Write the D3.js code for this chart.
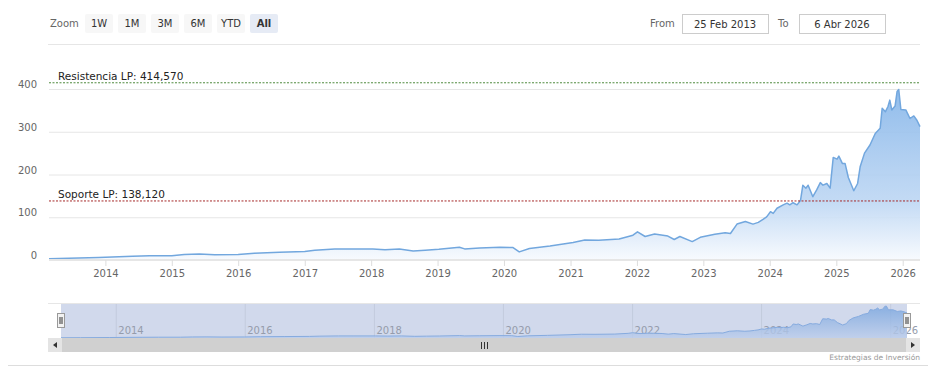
<!DOCTYPE html>
<html>
<head>
<meta charset="utf-8">
<script src="https://cdn.jsdelivr.net/npm/d3@7/dist/d3.min.js"></script>
<style>
  body { margin:0; background:#fff; }
  svg { display:block; font-family:"DejaVu Sans", Verdana, sans-serif; }
</style>
</head>
<body>
<script>
var width = 941, height = 385;

// price series
var dates = ["2013-02-25","2013-06-15","2013-11-25","2014-05-30","2014-09-01","2015-01-01","2015-03-10","2015-06-01","2015-08-25",
  "2016-01-01","2016-03-30","2016-08-15","2017-01-01","2017-02-25","2017-06-15","2017-09-05","2018-01-10","2018-03-18","2018-06-05",
  "2018-08-20","2018-10-25","2019-01-08","2019-05-01","2019-05-30","2019-08-20","2019-12-10","2020-02-20","2020-03-25","2020-05-20",
  "2020-09-10","2021-01-15","2021-03-20","2021-06-05","2021-09-25","2021-11-05","2021-12-10","2022-01-04","2022-02-15","2022-04-08",
  "2022-06-20","2022-07-25","2022-08-25","2022-11-01","2022-12-15","2023-03-05","2023-05-01","2023-05-30","2023-07-05","2023-08-20",
  "2023-10-01","2023-10-30","2023-11-25","2023-12-15","2024-01-05","2024-01-20","2024-02-10","2024-03-15","2024-04-05","2024-04-20",
  "2024-05-08","2024-05-30","2024-06-18","2024-07-01","2024-07-18","2024-07-30","2024-08-25","2024-09-15","2024-10-05","2024-10-20",
  "2024-11-10","2024-11-28","2024-12-15","2025-01-05","2025-01-15","2025-02-03","2025-02-18","2025-03-08","2025-04-07","2025-04-28",
  "2025-05-12","2025-06-05","2025-07-05","2025-08-03","2025-08-30","2025-09-10","2025-09-28","2025-10-12","2025-10-22","2025-11-02",
  "2025-11-20","2025-12-01","2025-12-10","2025-12-22","2026-01-18","2026-02-10","2026-03-03","2026-03-20","2026-04-06"];
var prices = [3,4,6,9,10,10,13,14,12,
  13,16,18,20,23,26,26,26,24,26,
  21,23,25,30,26,28,30,29,19,27,
  33,41,47,46,49,54,58,66,55,61,
  56,48,55,43,53,60,64,62,84,90,
  84,88,95,101,113,109,121,129,133,129,
  134,129,139,175,168,175,148,164,181,175,
  179,168,240,236,243,226,226,193,162,179,
  218,250,269,296,308,355,347,359,374,351,
  360,394,399,352,351,331,337,327,312];

var yTicks = [0,100,200,300,400];
var levels = [{label:"Resistencia LP: 414,570", value:414.57, color:"#4e8a3c"},
              {label:"Soporte LP: 138,120", value:138.12, color:"#a52a2a"}];
var zoomButtons = ["1W","1M","3M","6M","YTD","All"];
var fromText = "25 Feb 2013", toText = "6 Abr 2026";
var credits = "Estrategias de Inversión";

var parse = d3.timeParse("%Y-%m-%d");
var data = dates.map((d,i)=>({date:parse(d), v:prices[i]}));

var svg = d3.select("body").append("svg").attr("width",width).attr("height",height);
var defs = svg.append("defs");

// ---- range selector ----
svg.append("text").attr("x",50).attr("y",27).attr("fill","#666").attr("font-size",10).text("Zoom");
var btn = svg.selectAll("g.btn").data(zoomButtons).enter().append("g").attr("class","btn")
  .attr("transform",(d,i)=>"translate("+(85+i*33)+",14)");
btn.append("rect").attr("width",28).attr("height",19).attr("rx",2)
  .attr("fill",d=>d=="All"?"#e6ebf5":"#f7f7f7");
btn.append("text").attr("x",14).attr("y",13).attr("text-anchor","middle").attr("font-size",10)
  .attr("fill","#333").attr("font-weight",d=>d=="All"?"bold":"normal").text(d=>d);

svg.append("text").attr("x",650).attr("y",27).attr("fill","#666").attr("font-size",10).text("From");
svg.append("text").attr("x",778).attr("y",27).attr("fill","#666").attr("font-size",10).text("To");
[[682,fromText],[799,toText]].forEach(b=>{
  svg.append("rect").attr("x",b[0]+0.5).attr("y",14.5).attr("width",86).attr("height",19)
    .attr("fill","#fff").attr("stroke","#ccc");
  svg.append("text").attr("x",b[0]+43).attr("y",27.5).attr("text-anchor","middle").attr("font-size",10)
    .attr("fill","#333").text(b[1]);
});
svg.append("line").attr("x1",48).attr("x2",920).attr("y1",44.5).attr("y2",44.5).attr("stroke","#e6e6e6");

// ---- main chart ----
var x = d3.scaleTime().domain([data[0].date, data[data.length-1].date]).range([49,920]);
var y = d3.scaleLinear().domain([0,400]).range([260,89]);

var yAxis = svg.append("g").attr("transform","translate(49,0)")
  .call(d3.axisLeft(y).tickValues(yTicks).tickSize(-871).tickFormat(d3.format("d")));
yAxis.select(".domain").remove();
yAxis.selectAll(".tick line").attr("stroke","#e6e6e6");
yAxis.selectAll(".tick text").attr("x",-12).attr("dy","-0.15em").attr("fill","#666")
  .attr("font-size",10).attr("font-family","DejaVu Sans, Verdana, sans-serif");

var grad = defs.append("linearGradient").attr("id","areaGrad").attr("gradientUnits","userSpaceOnUse")
  .attr("x1",0).attr("x2",0).attr("y1",89).attr("y2",260);
grad.append("stop").attr("offset",0).attr("stop-color","#84b5e9");
grad.append("stop").attr("offset",0.36).attr("stop-color","#a5c8ef");
grad.append("stop").attr("offset",0.65).attr("stop-color","#bcd6f3");
grad.append("stop").attr("offset",1).attr("stop-color","#f7fafe");

svg.append("path").datum(data).attr("fill","url(#areaGrad)").attr("fill-opacity",0.9)
  .attr("d",d3.area().x(d=>x(d.date)).y0(y(0)).y1(d=>y(d.v)));
svg.append("path").datum(data).attr("fill","none").attr("stroke","#72a7de").attr("stroke-width",1.5)
  .attr("stroke-linejoin","round")
  .attr("d",d3.line().x(d=>x(d.date)).y(d=>y(d.v)));

var xAxis = svg.append("g").attr("transform","translate(0,260)")
  .call(d3.axisBottom(x).ticks(d3.timeYear.every(1)).tickSize(6).tickFormat(d3.timeFormat("%Y")));
xAxis.select(".domain").attr("stroke","#e6e6e6").attr("stroke-width",2).attr("d","M49,0H920");
xAxis.selectAll(".tick line").attr("stroke","#ddd");
xAxis.selectAll(".tick text").attr("y",10).attr("fill","#666").attr("font-size",10)
  .attr("font-family","DejaVu Sans, Verdana, sans-serif");

// support / resistance lines
levels.forEach(l=>{
  svg.append("line").attr("x1",49).attr("x2",920).attr("y1",y(l.value)).attr("y2",y(l.value))
    .attr("stroke",l.color).attr("stroke-dasharray","2,1.5");
  svg.append("text").attr("x",58).attr("y",y(l.value)-3).attr("font-size",10.5).attr("fill","#222").text(l.label);
});

// ---- navigator ----
var xn = d3.scaleTime().domain(x.domain()).range([61,907]);
var yn = d3.scaleLinear().domain([0,d3.max(prices)]).range([338,306]);
svg.append("line").attr("x1",48).attr("x2",920).attr("y1",303.5).attr("y2",303.5).attr("stroke","#e6e6e6");
svg.append("rect").attr("x",61).attr("y",304).attr("width",846).attr("height",34).attr("fill","#d1d9ec");

var navAxis = svg.append("g").attr("transform","translate(0,304)")
  .call(d3.axisBottom(xn).ticks(d3.timeYear.every(2)).tickSize(34).tickFormat(d3.timeFormat("%Y")));
navAxis.select(".domain").remove();
navAxis.selectAll(".tick line").attr("stroke","#c3cbdd");
navAxis.selectAll(".tick text").attr("x",2).attr("y",30).attr("dy",0).attr("text-anchor","start")
  .attr("fill","#959cab").attr("font-size",10).attr("font-family","DejaVu Sans, Verdana, sans-serif");

var ngrad = defs.append("linearGradient").attr("id","navGrad").attr("gradientUnits","userSpaceOnUse")
  .attr("x1",0).attr("x2",0).attr("y1",306).attr("y2",338);
ngrad.append("stop").attr("offset",0).attr("stop-color","#78a5de");
ngrad.append("stop").attr("offset",1).attr("stop-color","#bccdeb");
svg.append("path").datum(data).attr("fill","url(#navGrad)").attr("fill-opacity",0.8)
  .attr("d",d3.area().x(d=>xn(d.date)).y0(338).y1(d=>yn(d.v)));
svg.append("path").datum(data).attr("fill","none").attr("stroke","#86abdf").attr("stroke-width",1)
  .attr("d",d3.line().x(d=>xn(d.date)).y(d=>yn(d.v)));

// handles
[61,907].forEach(hx=>{
  var h = svg.append("g").attr("transform","translate("+hx+",313)");
  h.append("rect").attr("x",-3.5).attr("y",0.5).attr("width",7).attr("height",14).attr("fill","#f2f2f2").attr("stroke","#999");
  h.append("line").attr("x1",-1).attr("x2",-1).attr("y1",4).attr("y2",11).attr("stroke","#333");
  h.append("line").attr("x1",1).attr("x2",1).attr("y1",4).attr("y2",11).attr("stroke","#333");
});

// scrollbar
svg.append("rect").attr("x",48).attr("y",338).attr("width",872).attr("height",14).attr("fill","#d0d0d0");
svg.append("rect").attr("x",48).attr("y",338).attr("width",14).attr("height",14).attr("fill","#e4e4e4");
svg.append("rect").attr("x",906).attr("y",338).attr("width",14).attr("height",14).attr("fill","#e4e4e4");
svg.append("path").attr("d","M57,342L53,345L57,348Z").attr("fill","#333");
svg.append("path").attr("d","M911,342L915,345L911,348Z").attr("fill","#333");
[-3,0,3].forEach(o=>svg.append("line").attr("x1",484+o+0.5).attr("x2",484+o+0.5).attr("y1",342).attr("y2",349).attr("stroke","#333"));

// credits & bottom rule
svg.append("text").attr("x",920).attr("y",360).attr("text-anchor","end").attr("font-size",7.5).attr("fill","#999").text(credits);
svg.append("line").attr("x1",8).attr("x2",928).attr("y1",365.5).attr("y2",365.5).attr("stroke","#ddd");
</script>
</body>
</html>
